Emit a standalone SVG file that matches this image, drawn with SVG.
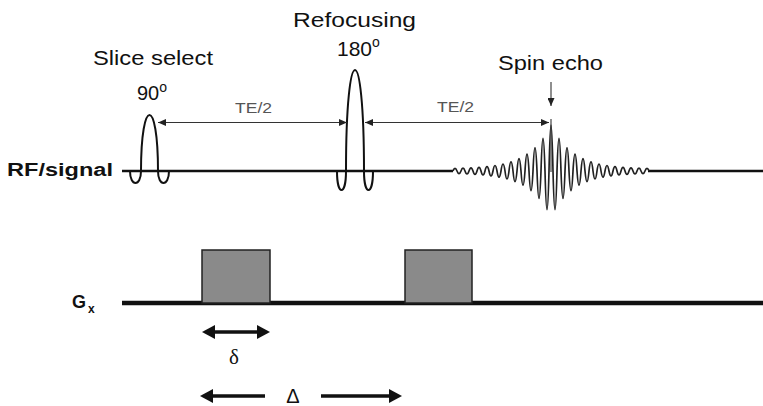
<svg xmlns="http://www.w3.org/2000/svg" width="763" height="406" viewBox="0 0 763 406">
<style>
.lbl{font-family:"Liberation Sans",Arial,sans-serif;fill:#111}
.te{font-family:"Liberation Sans",Arial,sans-serif;font-size:15px;fill:#555}
.bold{font-family:"Liberation Sans",Arial,sans-serif;font-weight:bold;fill:#111}
.greek{font-family:"Liberation Serif","Times New Roman",serif;fill:#111}
.base{stroke:#111;stroke-width:2.6;fill:none}
.grad{stroke:#111;stroke-width:4.5;fill:none}
.pulse{stroke:#111;stroke-width:2;fill:none}
.echo{stroke:#222;stroke-width:1.7;fill:none}
.thin{stroke:#333;stroke-width:1.1;fill:none}
.thick{stroke:#111;stroke-width:3.6;fill:none}
.box{fill:#8a8a8a;stroke:#222;stroke-width:1.5}
</style>
<defs>
<marker id="ah" markerUnits="userSpaceOnUse" markerWidth="8" markerHeight="7" refX="8" refY="3.5" orient="auto-start-reverse">
<path d="M0,0 L8,3.5 L0,7 z" fill="#222"/>
</marker>
<marker id="ahb" markerUnits="userSpaceOnUse" markerWidth="13" markerHeight="14" refX="9" refY="7" orient="auto-start-reverse">
<path d="M0,0 L13,7 L0,14 z" fill="#111"/>
</marker>
</defs>

<g id="labels">
<text class="lbl" x="93" y="65" font-size="20" textLength="120" lengthAdjust="spacingAndGlyphs">Slice select</text>
<text class="lbl" x="137" y="100" font-size="20">90<tspan font-size="14" dy="-8">o</tspan></text>
<text class="lbl" x="293" y="27" font-size="20" textLength="123" lengthAdjust="spacingAndGlyphs">Refocusing</text>
<text class="lbl" x="337" y="56" font-size="21">180<tspan font-size="14" dy="-9">o</tspan></text>
<text class="lbl" x="498" y="70" font-size="20" textLength="105" lengthAdjust="spacingAndGlyphs">Spin echo</text>
<text class="bold" x="7" y="176" font-size="18" textLength="106" lengthAdjust="spacingAndGlyphs">RF/signal</text>
<text class="bold" x="72" y="308" font-size="18">G</text>
<text class="bold" x="88" y="313" font-size="12">x</text>
</g>

<g id="rf-line">
<path class="base" d="M122,171 H453 M648,171 H763"/>
</g>

<g id="pulse-90">
<path class="pulse" d="M128,171 H130 C130,187 141,187 141,171 C141,96.3 158,96.3 158,171 C158,187 169,187 169,171 H171"/>
</g>

<g id="pulse-180">
<path class="pulse" d="M335,171 H337 C337,196.3 346,196.3 346,171 C346,36.3 364,36.3 364,171 C364,196.3 373,196.3 373,171 H375"/>
</g>

<g id="spin-echo">
<path class="echo" d="M453,171 q2,-5.2 4,0 q2,5.4 4,0 q2,-5.6 4,0 q2,6 4,0 q2,-6.4 4,0 q2,6.8 4,0 q2,-7.4 4,0 q2,8 4,0 q2,-8.8 4,0 q2,9.8 4,0 q2,-11 4,0 q2,12.2 4,0 q2,-14 4,0 q2,16 4,0 q2,-18.2 4,0 q2,21.2 4,0 q2,-24.6 4,0 q2,28.6 4,0 q2,-33.6 4,0 q2,39.4 4,0 q2,-46.6 4,0 q2,55 4,0 q2,-65.2 4,0 q2,77.4 4,0 q2,-92 4,0 q2,77.4 4,0 q2,-65.2 4,0 q2,55 4,0 q2,-46.6 4,0 q2,39.4 4,0 q2,-33.6 4,0 q2,28.6 4,0 q2,-24.6 4,0 q2,21.2 4,0 q2,-18.2 4,0 q2,16 4,0 q2,-14 4,0 q2,12.2 4,0 q2,-11 4,0 q2,9.8 4,0 q2,-8.8 4,0 q2,8 4,0 q2,-7.4 4,0 q2,6.8 4,0 q2,-6.4 4,0 q2,6 4,0 q2,-5.6 4,0 q2,5.4 4,0 q2,-5.2 4,0"/>
</g>

<g id="gx-line">
<path class="grad" d="M122,303 H763"/>
</g>

<g id="gradient-1">
<rect class="box" x="202" y="250" width="68" height="53"/>
</g>
<g id="gradient-2">
<rect class="box" x="405" y="250" width="67" height="53"/>
</g>

<g id="connectors">
<line class="thin" x1="158" y1="122.5" x2="347" y2="122.5" marker-start="url(#ah)" marker-end="url(#ah)"/>
<line class="thin" x1="365" y1="122.5" x2="549" y2="122.5" marker-start="url(#ah)" marker-end="url(#ah)"/>
<line class="thin" x1="551" y1="119" x2="551" y2="172"/>
<line class="thin" x1="551" y1="82" x2="551" y2="106" marker-end="url(#ah)"/>
<line class="thick" x1="206" y1="332" x2="266" y2="332" marker-start="url(#ahb)" marker-end="url(#ahb)"/>
<line class="thick" x1="265" y1="396" x2="204" y2="396" marker-end="url(#ahb)"/>
<line class="thick" x1="321" y1="396" x2="398" y2="396" marker-end="url(#ahb)"/>
</g>

<g id="connector-labels">
<text class="te" x="235" y="113" textLength="37" lengthAdjust="spacingAndGlyphs">TE/2</text>
<text class="te" x="437" y="112" textLength="37" lengthAdjust="spacingAndGlyphs">TE/2</text>
<text class="greek" x="234" y="364" font-size="21" text-anchor="middle">δ</text>
<text class="lbl" x="293" y="403" font-size="20" text-anchor="middle">Δ</text>
</g>
</svg>
